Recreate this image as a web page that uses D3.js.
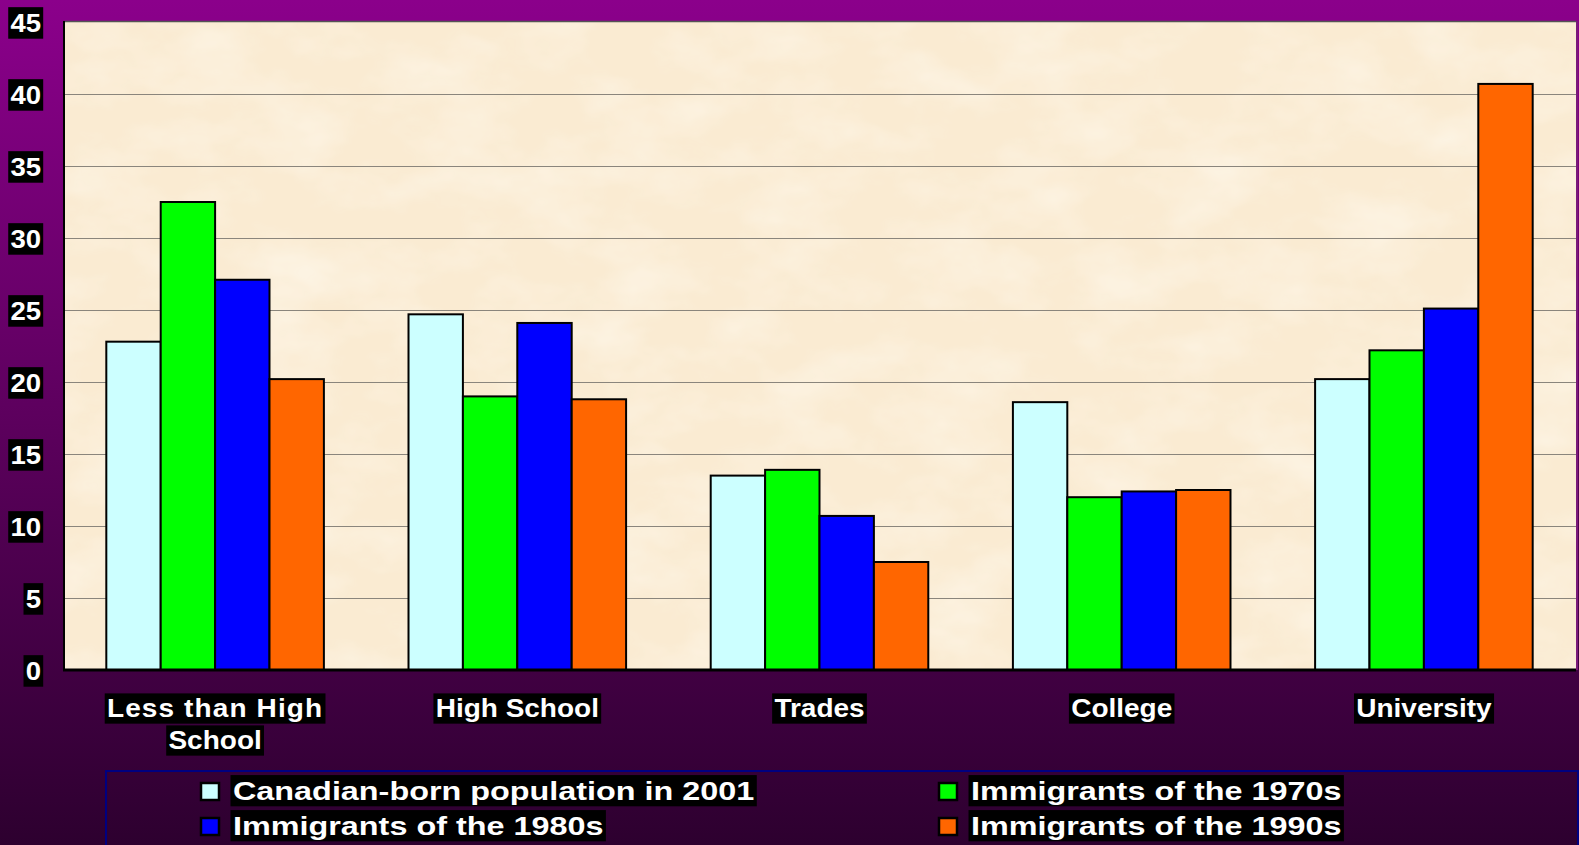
<!DOCTYPE html>
<html>
<head>
<meta charset="utf-8">
<script src="https://cdn.jsdelivr.net/npm/d3@7"></script>
<style>
  html, body { margin: 0; padding: 0; overflow: hidden; background: #2E0032; }
  svg { display: block; }
  text { font-family: "Liberation Sans", Arial, sans-serif; font-weight: bold; fill: #fff; }
</style>
</head>
<body>
<script>
const categories = ["Less than High School", "High School", "Trades", "College", "University"];
const categoryLines = [["Less than High", "School"], ["High School"], ["Trades"], ["College"], ["University"]];
const seriesNames = ["Canadian-born population in 2001", "Immigrants of the 1970s", "Immigrants of the 1980s", "Immigrants of the 1990s"];
const canadianBorn = [22.8, 24.7, 13.5, 18.6, 20.2];
const immig1970s = [32.5, 19.0, 13.9, 12.0, 22.2];
const immig1980s = [27.1, 24.1, 10.7, 12.4, 25.1];
const immig1990s = [20.2, 18.8, 7.5, 12.5, 40.7];
const yTicks = [0, 5, 10, 15, 20, 25, 30, 35, 40, 45];
const seriesColors = ["#CCFFFF", "#00FF00", "#0000FF", "#FF6600"];

const seriesValues = [canadianBorn, immig1970s, immig1980s, immig1990s];
const W = 1579, H = 845;
const plot = { left: 64, top: 21, right: 1576, bottom: 670 };

const svg = d3.select("body").append("svg").attr("width", W).attr("height", H);
const defs = svg.append("defs");

const bg = defs.append("linearGradient").attr("id", "bg").attr("x1", 0).attr("y1", 0).attr("x2", 0).attr("y2", 1);
bg.append("stop").attr("offset", "0%").attr("stop-color", "#8B008B");
bg.append("stop").attr("offset", "100%").attr("stop-color", "#2D002F");

const f = defs.append("filter").attr("id", "paper").attr("x", 0).attr("y", 0).attr("width", 1).attr("height", 1);
f.append("feTurbulence").attr("type", "fractalNoise").attr("baseFrequency", "0.012 0.02").attr("numOctaves", 4).attr("seed", 3).attr("result", "n");
f.append("feColorMatrix").attr("in", "n").attr("type", "matrix")
  .attr("values", "0 0 0 0 1  0 0 0 0 0.97  0 0 0 0 0.9  0 0 0 -0.9 0.55").attr("result", "c");
f.append("feComposite").attr("in", "c").attr("in2", "SourceGraphic").attr("operator", "in");

svg.append("rect").attr("width", W).attr("height", H).attr("fill", "url(#bg)");

// plot area background
svg.append("rect").attr("x", plot.left).attr("y", plot.top)
  .attr("width", plot.right - plot.left).attr("height", plot.bottom - plot.top)
  .attr("fill", "#FAEBD2");
svg.append("rect").attr("x", plot.left).attr("y", plot.top)
  .attr("width", plot.right - plot.left).attr("height", plot.bottom - plot.top)
  .attr("fill", "#FAEBD2").attr("filter", "url(#paper)");

const x0 = d3.scaleBand().domain(categories).range([plot.left, plot.right - 1])
  .paddingInner(0.28).paddingOuter(0.14);
const x1 = d3.scaleBand().domain(seriesNames).range([0, x0.bandwidth()]).padding(0);
const y = d3.scaleLinear().domain([0, 45]).range([plot.bottom, plot.top + 1]);

// gridlines
svg.append("g").selectAll("line").data(yTicks.filter(t => t > 0 && t < 45)).join("line")
  .attr("x1", plot.left).attr("x2", plot.right)
  .attr("y1", d => Math.round(y(d)) + 0.5).attr("y2", d => Math.round(y(d)) + 0.5)
  .attr("stroke", "#8a857c").attr("stroke-width", 1);

// top frame line
svg.append("line").attr("x1", plot.left).attr("x2", plot.right).attr("y1", plot.top + 0.5).attr("y2", plot.top + 0.5)
  .attr("stroke", "#555").attr("stroke-width", 1.5);
// right frame line
svg.append("line").attr("x1", plot.right + 1).attr("x2", plot.right + 1).attr("y1", plot.top).attr("y2", plot.bottom)
  .attr("stroke", "#7a1a7a").attr("stroke-width", 2);

// bars
const groups = svg.append("g").selectAll("g").data(categories).join("g")
  .attr("transform", d => `translate(${x0(d)},0)`);
groups.selectAll("rect").data((c, ci) => seriesNames.map((s, si) => ({ s, si, v: seriesValues[si][ci] })))
  .join("rect")
  .attr("x", d => x1(d.s)).attr("width", x1.bandwidth())
  .attr("y", d => y(d.v)).attr("height", d => y(0) - y(d.v))
  .attr("fill", d => seriesColors[d.si])
  .attr("stroke", "#000").attr("stroke-width", 2);

// axes lines
svg.append("line").attr("x1", plot.left).attr("x2", plot.left).attr("y1", plot.top).attr("y2", plot.bottom + 1)
  .attr("stroke", "#000").attr("stroke-width", 2);
svg.append("line").attr("x1", plot.left - 1).attr("x2", plot.right).attr("y1", plot.bottom).attr("y2", plot.bottom)
  .attr("stroke", "#000").attr("stroke-width", 3);

// helper to draw text with black background box
function boxedText(parent, str, tx, ty, opts) {
  const g = parent.append("g").attr("transform", `translate(${tx},${ty}) scale(${opts.sx},1)`);
  const t = g.append("text").text(str).attr("font-size", opts.size).attr("text-anchor", opts.anchor || "start");
  if (opts.ls) t.attr("letter-spacing", opts.ls);
  const b = t.node().getBBox();
  const px = opts.padX || 1, py = opts.padY || 0;
  g.insert("rect", "text").attr("x", b.x - px).attr("y", b.y - py)
    .attr("width", b.width + 2 * px).attr("height", b.height + 2 * py).attr("fill", "#000");
  return g;
}

// y tick labels
const yAxisG = svg.append("g");
const yAxis = d3.axisLeft(y).tickValues(yTicks).tickSize(0).tickFormat(d3.format("d"));
yAxisG.attr("transform", `translate(${plot.left},0)`).call(yAxis);
yAxisG.select(".domain").remove();
yAxisG.selectAll(".tick").each(function (d) {
  const tick = d3.select(this);
  tick.selectAll("text").remove();
  boxedText(tick, String(d), -23, 9, { size: 25, sx: 1.1, anchor: "end", padX: 2, padY: 1.5 });
});

// x category labels
categories.forEach((c, i) => {
  const cx = x0(c) + x0.bandwidth() / 2;
  categoryLines[i].forEach((line, li) => {
    boxedText(svg, line, cx, 717 + li * 32, { size: 25, sx: 1.12, anchor: "middle", padX: 2, padY: 1, ls: i === 0 && li === 0 ? 1 : 0 });
  });
});

// legend
svg.append("rect").attr("x", 106).attr("y", 771).attr("width", 1472).attr("height", 100)
  .attr("fill", "none").attr("stroke", "#000080").attr("stroke-width", 2);
const legendPos = [[200, 782], [938, 782], [200, 817], [938, 817]];
seriesNames.forEach((s, i) => {
  const [lx, ly] = legendPos[i];
  svg.append("rect").attr("x", lx + 1).attr("y", ly + 1).attr("width", 18).attr("height", 17)
    .attr("fill", seriesColors[i]).attr("stroke", "#000").attr("stroke-width", 2.5);
  boxedText(svg, s, lx + 33, ly + 18, { size: 26, sx: 1.245, anchor: "start", padX: 2, padY: 1 });
});
</script>
</body>
</html>
